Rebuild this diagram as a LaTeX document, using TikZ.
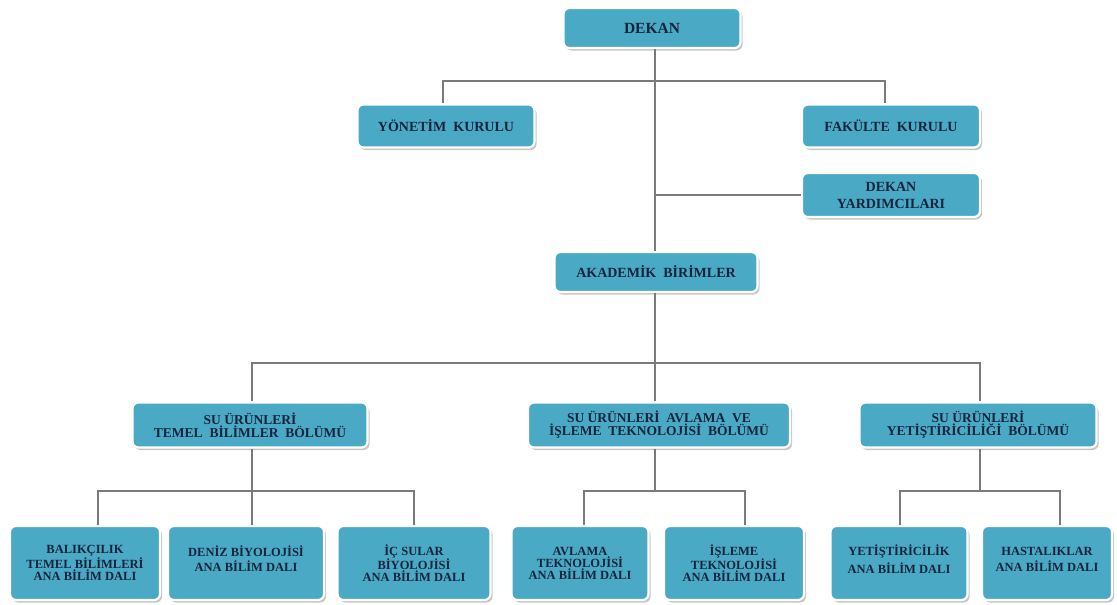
\documentclass[tikz,border=0pt]{standalone}
\usepackage{fontspec}
\setmainfont{Liberation Serif}
\usetikzlibrary{shadows}
\definecolor{boxfill}{HTML}{4AAAC5}
\definecolor{boxtext}{HTML}{17243D}
\definecolor{linegray}{HTML}{7A7A7A}
\tikzset{
  orgbox/.style={draw=white, line width=2.2pt, fill=boxfill, rounded corners=6pt,
    drop shadow={shadow xshift=2pt, shadow yshift=-2.5pt, fill=black!45},
    align=center, text=boxtext, inner sep=1pt, font=\bfseries},
  bigfont/.style={font=\fontsize{15.5}{15}\selectfont\bfseries},
  topfont/.style={font=\fontsize{14}{14}\selectfont\bfseries},
  midfont/.style={font=\fontsize{13.5}{13}\selectfont\bfseries},
  lowfont/.style={font=\fontsize{12.5}{12}\selectfont\bfseries},
  conn/.style={draw=linegray, line width=1.1pt}
}
\begin{document}
\begin{tikzpicture}[x=1pt,y=-1pt]
\useasboundingbox (0,0) rectangle (1117,605);
% top level
\node[orgbox, bigfont, minimum width=177pt, minimum height=40pt] (dekan) at (652,28) {DEKAN};
\node[orgbox, topfont, minimum width=177pt, minimum height=43pt] (yon) at (446,126) {YÖNETİM\ \ KURULU};
\node[orgbox, topfont, minimum width=178pt, minimum height=43pt] (fak) at (891,126) {FAKÜLTE\ \ KURULU};
\node[orgbox, topfont, minimum width=178pt, minimum height=44pt] (yard) at (891,195) {DEKAN\\[3pt]YARDIMCILARI};
\node[orgbox, topfont, minimum width=203pt, minimum height=40pt] (akad) at (656,272) {AKADEMİK\ \ BİRİMLER};
% departments
\node[orgbox, midfont, minimum width=235pt, minimum height=45pt] (temel) at (250,425) {SU ÜRÜNLERİ\\TEMEL\ \ BİLİMLER\ \ BÖLÜMÜ};
\node[orgbox, midfont, minimum width=262pt, minimum height=45pt] (avlve) at (659,425) {SU ÜRÜNLERİ\ \ AVLAMA\ \ VE\\İŞLEME\ \ TEKNOLOJİSİ\ \ BÖLÜMÜ};
\node[orgbox, midfont, minimum width=237pt, minimum height=45pt] (yetbol) at (978,425) {SU ÜRÜNLERİ\\YETİŞTİRİCİLİĞİ\ \ BÖLÜMÜ};
% sub units
\node[orgbox, lowfont, minimum width=150pt, minimum height=74pt] (balik) at (85,563) {BALIKÇILIK\\TEMEL BİLİMLERİ\\ANA BİLİM DALI};
\node[orgbox, lowfont, minimum width=156pt, minimum height=74pt] (deniz) at (246,563) {DENİZ BİYOLOJİSİ\\[3pt]ANA BİLİM DALI\\[-4pt]};
\node[orgbox, lowfont, minimum width=153pt, minimum height=74pt] (icsu) at (414,563) {İÇ SULAR\\BİYOLOJİSİ\\ANA BİLİM DALI};
\node[orgbox, lowfont, minimum width=137pt, minimum height=74pt] (avl) at (580,563) {AVLAMA\\TEKNOLOJİSİ\\ANA BİLİM DALI};
\node[orgbox, lowfont, minimum width=140pt, minimum height=74pt] (isl) at (734,563) {İŞLEME\\TEKNOLOJİSİ\\ANA BİLİM DALI};
\node[orgbox, lowfont, minimum width=137pt, minimum height=74pt] (yet) at (899,563) {YETİŞTİRİCİLİK\\[4pt]ANA BİLİM DALI\\[-4pt]};
\node[orgbox, lowfont, minimum width=130pt, minimum height=74pt] (hast) at (1047,563) {HASTALIKLAR\\[4pt]ANA BİLİM DALI\\[-4pt]};
% coordinates
\coordinate (sp) at (655,0);
\coordinate (h1l) at (443,81);
\coordinate (h1r) at (885,81);
\coordinate (h2l) at (252,363);
\coordinate (h2r) at (980,363);
\coordinate (b1l) at (98,491);
\coordinate (b1m) at (252,491);
\coordinate (b1r) at (414,491);
\coordinate (b2l) at (584,491);
\coordinate (b2r) at (745,491);
\coordinate (b3l) at (900,491);
\coordinate (b3r) at (1060,491);
% connectors
\draw[conn] (dekan.south -| sp) -- (akad.north -| sp);
\draw[conn] (yon.north -| h1l) -- (h1l) -- (h1r) -- (fak.north -| h1r);
\draw[conn] (sp |- yard.west) -- (yard.west);
\draw[conn] (akad.south -| sp) -- (temel.north -| sp);
\draw[conn] (temel.north -| h2l) -- (h2l) -- (h2r) -- (yetbol.north -| h2r);
\draw[conn] (temel.south -| b1m) -- (b1m);
\draw[conn] (balik.north -| b1l) -- (b1l) -- (b1r) -- (icsu.north -| b1r);
\draw[conn] (b1m) -- (deniz.north -| b1m);
\draw[conn] (avlve.south -| sp) -- (sp |- b2l);
\draw[conn] (avl.north -| b2l) -- (b2l) -- (b2r) -- (isl.north -| b2r);
\draw[conn] (yetbol.south -| h2r) -- (h2r |- b3l);
\draw[conn] (yet.north -| b3l) -- (b3l) -- (b3r) -- (hast.north -| b3r);
\end{tikzpicture}
\end{document}
